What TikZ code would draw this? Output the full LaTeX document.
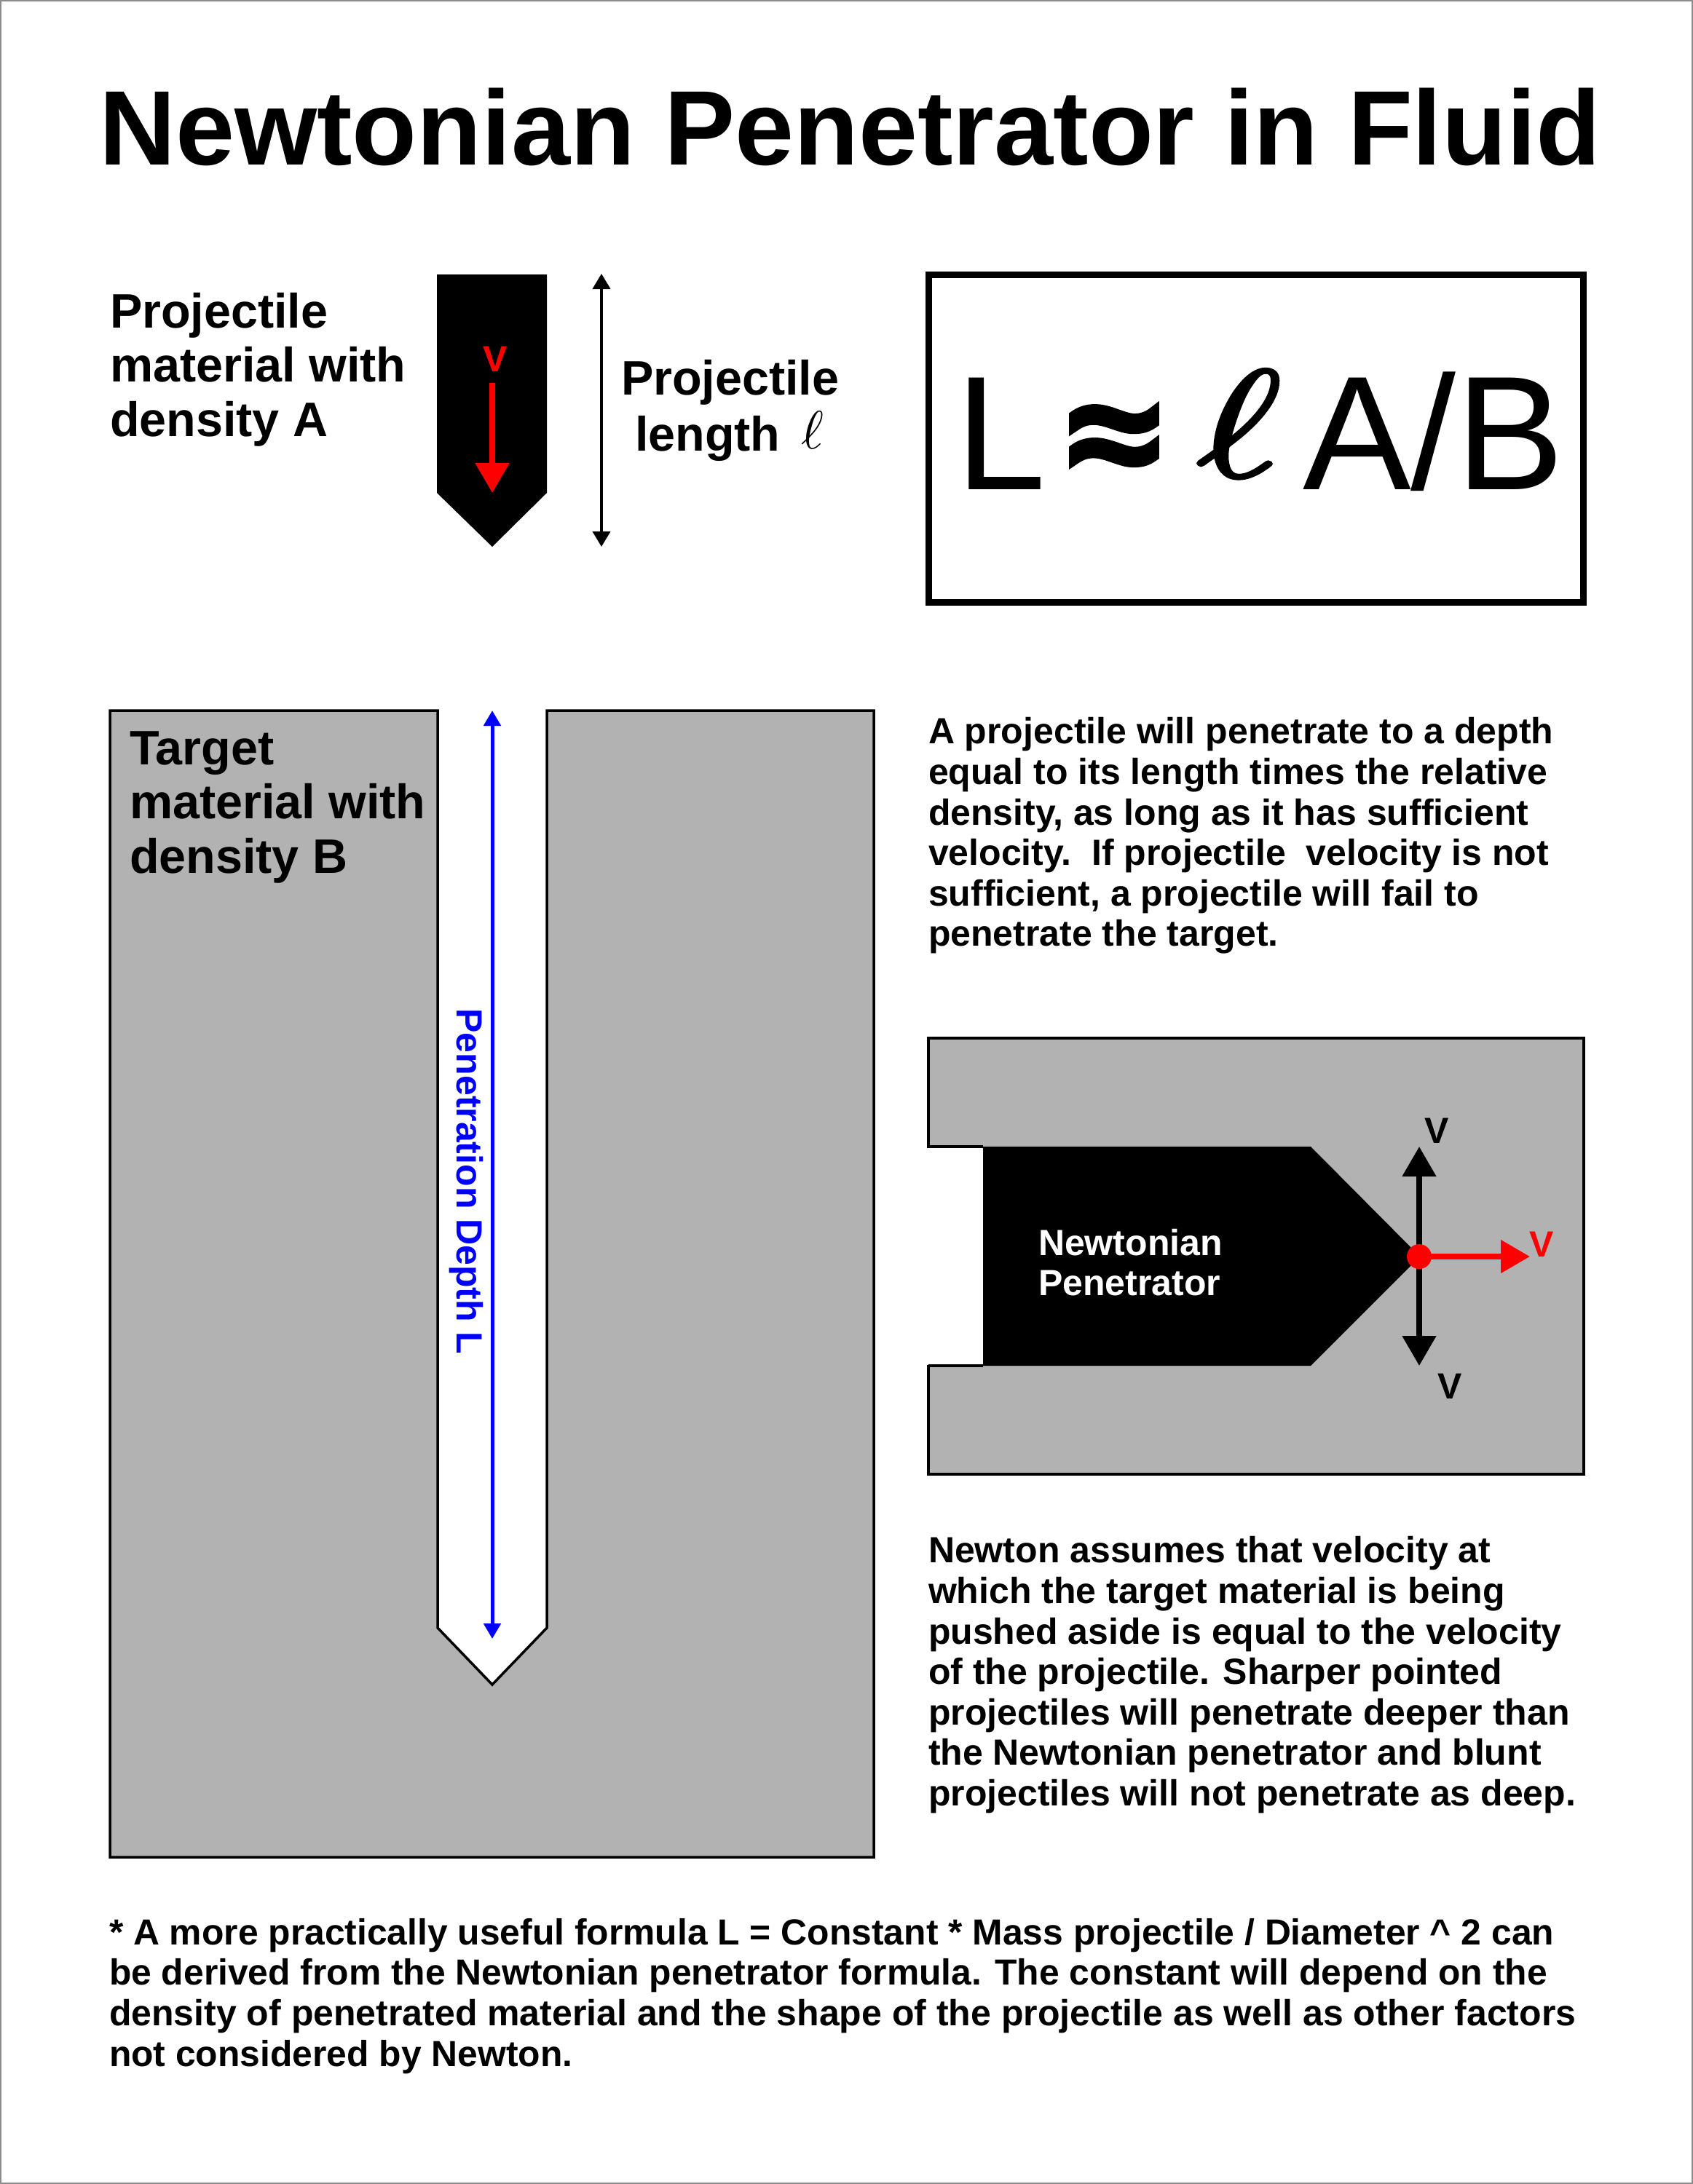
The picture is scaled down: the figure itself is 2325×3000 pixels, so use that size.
\documentclass[tikz,border=0pt]{standalone}
\usepackage{fontspec}
\setmainfont{Liberation Sans}
\newfontfamily\fatfont[FakeBold=6]{Liberation Sans}
\usetikzlibrary{arrows.meta}
\definecolor{tgrey}{HTML}{B2B2B2}
\newcommand{\scriptell}{{\fontsize{10}{12}\selectfont$\ell$}}
\tikzset{
  every node/.style={inner sep=0pt,outer sep=0pt},
  solidbody/.style={fill=tgrey,draw=black,line width=3.5pt,line join=miter},
  para/.style={anchor=north west,align=left,font=\fontsize{50}{55.6}\selectfont\bfseries},
  big/.style={anchor=north west,align=left,font=\fontsize{66.5}{74.5}\selectfont\bfseries},
  letter/.style={anchor=base,font=\fontsize{50}{55}\selectfont\bfseries},
  blacktip/.style={-{Triangle[length=41pt,width=45pt]},line width=8pt},
  thintip/.style={{Triangle[length=21pt,width=24pt]}-{Triangle[length=21pt,width=24pt]},line width=4pt},
  bluetip/.style={{Triangle[length=21pt,width=23pt]}-{Triangle[length=21pt,width=23pt]},line width=5pt,draw=blue}
}
\begin{document}
\begin{tikzpicture}[x=1pt,y=-1pt]
\useasboundingbox (0,0) rectangle (2325,3000);
\draw[draw=black!45,line width=2pt] (1,1) rectangle (2324,2999);
% title
\node[anchor=base west,font=\fontsize{145.6}{150}\selectfont\bfseries] (title) at (136,226) {Newtonian Penetrator in Fluid};
% projectile
\fill[black] (600,377) -- (751,377) -- (751,677) -- (676,751) -- (600,677) -- cycle;
\coordinate (pv1) at (676,526);
\coordinate (pv2) at (676,677);
\draw[red,-{Triangle[length=41pt,width=45pt]},line width=8pt] (pv1) -- (pv2);
\node[letter,text=red] (pv) at (680,510) {V};
\node[big] (ptext) at (151,398) {\strut Projectile\\material with\\density A};
% length arrow
\coordinate (l1) at (826,376);
\coordinate (l2) at (826,751);
\draw[thintip] (l1) -- (l2);
\node[big] (ltext) at (853,490) {\strut Projectile\\\hspace{19pt}length\hspace{29pt}\raisebox{3pt}{\scalebox{7.4}{\scriptell}}};
% formula
\draw[line width=9pt] (1275,377) rectangle (2174,827);
\node[anchor=base west,font=\fontsize{223}{230}\selectfont] (fL) at (1312,672) {L};
\node[anchor=base,font=\fatfont\fontsize{223}{230}\selectfont] (fa) at (1530,672) {≈};
\node[anchor=base west] (fl) at (1643,655) {\scalebox{28}[21]{\special{pdf:code 2 Tr 0.2 w}\scriptell\special{pdf:code 0 Tr 1 w}}};
\node[anchor=base west,font=\fontsize{223}{230}\selectfont] (fr) at (1789,672) {A/B};
% target
\draw[solidbody] (601,976) -- (151,976) -- (151,2551) -- (1200,2551) -- (1200,976) -- (751,976) -- (751,2236) -- (676,2314) -- (601,2236) -- cycle;
\node[big] (ttext) at (178,998) {\strut Target\\material with\\density B};
\coordinate (d1) at (676,976);
\coordinate (d2) at (676,2251);
\draw[bluetip] (d1) -- (d2);
\node[anchor=base,rotate=-90,text=blue,font=\fontsize{50}{55}\selectfont\bfseries] (dtext) at (627,1623) {Penetration Depth L};
% paragraphs
\node[para] (p1) at (1275,983) {\strut A projectile will penetrate to a depth\\equal to its length times the relative\\density, as long as it has sufficient\\velocity.\ \ If projectile\ \ velocity is not\\sufficient, a projectile will fail to\\penetrate the target.};
% newtonian penetrator
\draw[solidbody] (1275,1426) rectangle (2175,2025);
\fill[white] (1272,1577) rectangle (1350,1875);
\draw[black,line width=3.5pt] (1275,1575) -- (1350,1575);
\draw[black,line width=3.5pt] (1275,1876) -- (1350,1876);
\fill[black] (1350,1575) -- (1800,1575) -- (1950,1726) -- (1800,1876) -- (1350,1876) -- cycle;
\node[para,font=\fontsize{50}{55}\selectfont\bfseries,text=white] (ntext) at (1426,1686) {\strut Newtonian\\Penetrator};
\coordinate (c) at (1949,1726);
\coordinate (up) at (1949,1575);
\coordinate (dn) at (1949,1876);
\coordinate (rt) at (2101,1726);
\draw[blacktip] (c) -- (up);
\draw[blacktip] (c) -- (dn);
\draw[red,-{Triangle[length=40pt,width=44pt]},line width=8pt] (c) -- (rt);
\fill[red] (c) circle (17);
\node[letter] (v1) at (1973,1570) {V};
\node[letter] (v2) at (1991,1921) {V};
\node[letter,text=red] (v3) at (2117,1726) {V};
% lower text
\node[para] (p2) at (1275,2108) {\strut Newton assumes that velocity at\\which the target material is being\\pushed aside is equal to the velocity\\of the projectile. Sharper pointed\\projectiles will penetrate deeper than\\the Newtonian penetrator and blunt\\projectiles will not penetrate as deep.};
\node[para,font=\fontsize{49.8}{55.8}\selectfont\bfseries] (p3) at (150,2632) {\strut * A more practically useful formula L = Constant * Mass projectile / Diameter \textasciicircum\ 2 can\\be derived from the Newtonian penetrator formula. The constant will depend on the\\\fontsize{50}{55.8}\selectfont density of penetrated material and the shape of the projectile as well as other factors\\not considered by Newton.};
\end{tikzpicture}
\end{document}
